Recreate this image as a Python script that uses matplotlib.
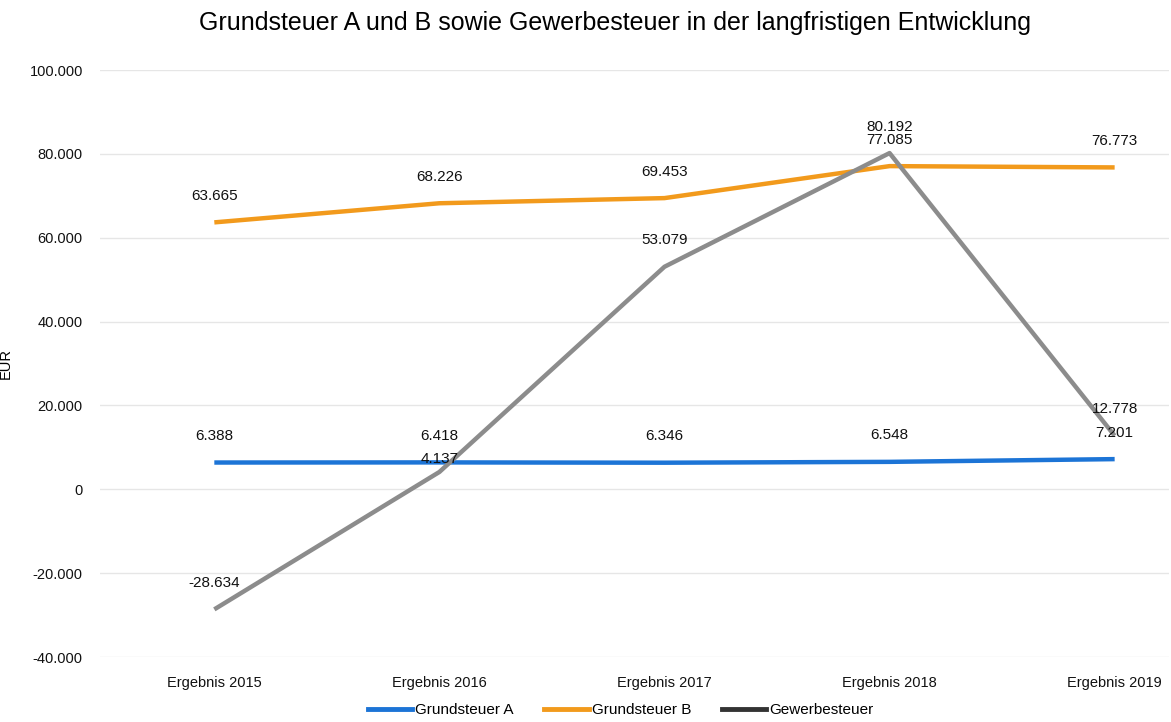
import matplotlib.pyplot as plt
from matplotlib.ticker import FuncFormatter

# ----------------------
# DATA
# ----------------------
years = ["Ergebnis 2015", "Ergebnis 2016", "Ergebnis 2017", "Ergebnis 2018", "Ergebnis 2019"]
grundsteuer_a = [6388, 6418, 6346, 6548, 7201]
grundsteuer_b = [63665, 68226, 69453, 77085, 76773]
gewerbesteuer = [-28634, 4137, 53079, 80192, 12778]

series = [
    ("Grundsteuer A", grundsteuer_a, "#1c74d6"),
    ("Grundsteuer B", grundsteuer_b, "#f29a1c"),
    ("Gewerbesteuer", gewerbesteuer, "#8c8c8c"),
]


def de_fmt(v):
    # German thousands separator
    return f"{int(round(v)):,}".replace(",", ".")


# ----------------------
# PLOT
# ----------------------
plt.rcParams["font.family"] = ["Liberation Sans", "DejaVu Sans"]
fig = plt.figure(figsize=(11.71, 7.22), dpi=100)
ax = fig.add_axes([0.085, 0.09, 0.913, 0.813])

x = list(range(len(years)))
for name, vals, col in series:
    ax.plot(x, vals, color=col, lw=3.2, solid_capstyle="butt", label=name, zorder=3)
    for xi, v in zip(x, vals):
        # the 2016 Gewerbesteuer label sits just under the Grundsteuer A one
        dy = 4 if (name == "Gewerbesteuer" and xi == 1) else 14
        ax.annotate(de_fmt(v), (xi, v), xytext=(0, dy), textcoords="offset points",
                    ha="center", va="bottom", fontsize=11, color="#111111", zorder=4)

ax.set_xlim(-0.51, 4.24)
ax.set_ylim(-40000, 100000)
ax.set_yticks(range(-40000, 100001, 20000))
ax.yaxis.set_major_formatter(FuncFormatter(lambda v, p: de_fmt(v)))
ax.set_xticks(x)
ax.set_xticklabels(years)
ax.tick_params(axis="both", length=0, labelsize=10.5, colors="#111111")
ax.tick_params(axis="x", pad=14)
ax.tick_params(axis="y", pad=12)
ax.grid(axis="y", color="#e6e6e6", lw=1)
ax.set_axisbelow(True)
for s in ax.spines.values():
    s.set_visible(False)

ax.set_ylabel("EUR", fontsize=10.5, labelpad=12)

fig.suptitle("Grundsteuer A und B sowie Gewerbesteuer in der langfristigen Entwicklung",
             fontsize=18, x=0.525, y=0.985)

leg_cols = ["#1c74d6", "#f29a1c", "#333333"]
leg_handles = [plt.Line2D([0], [0], color=c, lw=3.5) for c in leg_cols]
fig.legend(leg_handles, [s[0] for s in series], loc="lower center", ncol=3,
           bbox_to_anchor=(0.53, -0.012), frameon=False, fontsize=11,
           handlelength=2.9, handletextpad=0.2, columnspacing=2.0)

fig.savefig("out.png", dpi=100)
